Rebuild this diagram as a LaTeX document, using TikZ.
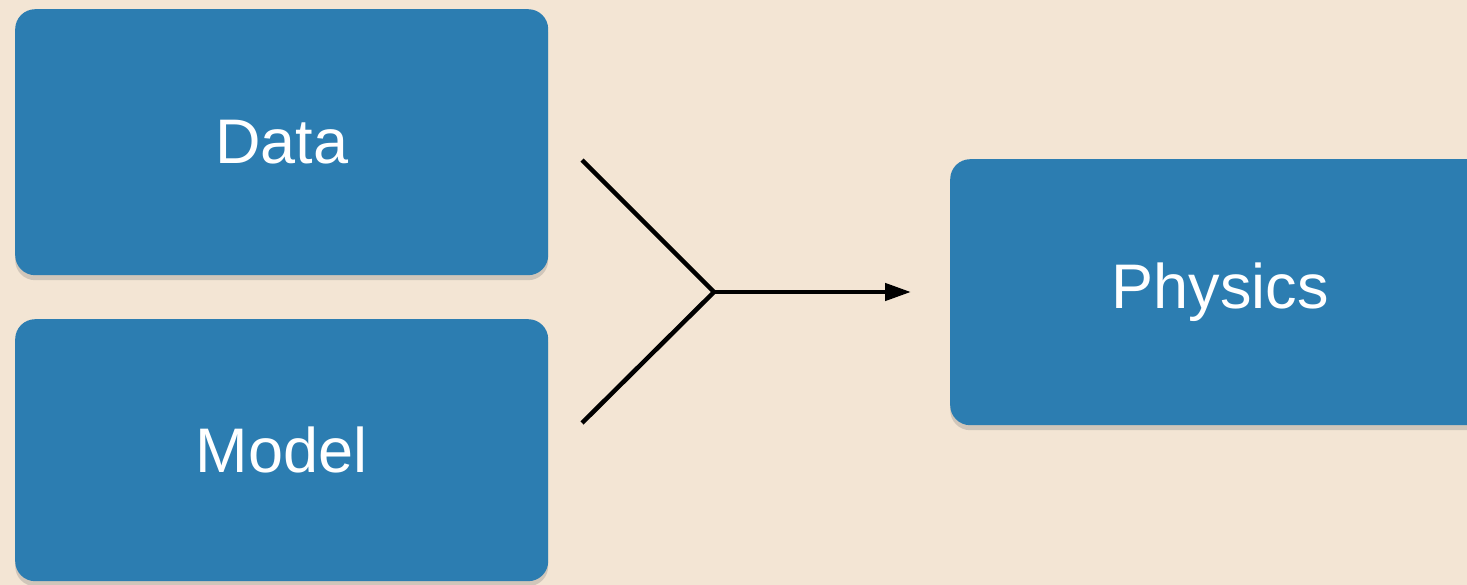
\documentclass[tikz,border=0pt]{standalone}
\usepackage{fontspec}
\setmainfont{Liberation Sans}
\usetikzlibrary{shadows,arrows.meta}
\definecolor{wood}{RGB}{243,229,212}
\definecolor{card}{RGB}{44,125,177}
\begin{document}
\begin{tikzpicture}[x=1pt,y=-1pt,
  cardbox/.style={fill=card, rounded corners=20pt, anchor=north west,
    inner sep=0pt, text=white, font=\fontsize{63}{66}\selectfont,
    drop shadow={opacity=0.3, shadow xshift=0pt, shadow yshift=-5pt}},
  flow/.style={line width=4.5pt, black}]
  % background
  \fill[wood] (0,0) rectangle (1467,585);
  \useasboundingbox (0,0) rectangle (1467,585);
  % cards
  \node[cardbox, minimum width=533pt, minimum height=266pt] (data) at (15,9) {\raisebox{-4pt}{Data}};
  \node[cardbox, minimum width=533pt, minimum height=262pt] (model) at (15,319) {\raisebox{-4pt}{Model}};
  \node[cardbox, minimum width=540pt, minimum height=266pt] (physics) at (950,159) {\raisebox{-4pt}{Physics}};
  % merging arrow
  \coordinate (top) at (582,160);
  \coordinate (bot) at (582,423);
  \coordinate (join) at (714,292);
  \coordinate (tip) at (911,292);
  \draw[flow] (top) -- (join) -- (bot);
  \draw[flow, -{Triangle[length=26pt,width=17pt]}] (join) -- (tip);
\end{tikzpicture}
\end{document}
